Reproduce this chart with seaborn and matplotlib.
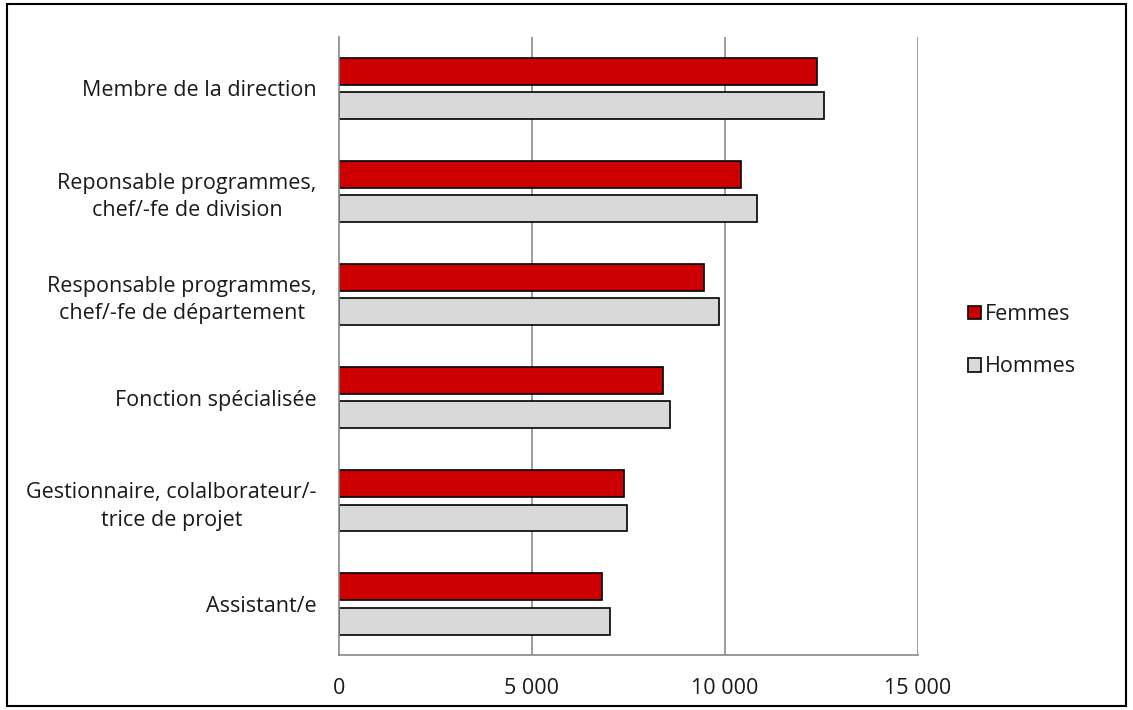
import pandas as pd
import numpy as np
import matplotlib.pyplot as plt
import seaborn as sns
from matplotlib.patches import Rectangle, Patch
from matplotlib.ticker import FixedLocator

# --- 数据 ---
categories = [
    'Membre de la direction',
    'Reponsable programmes,\nchef/-fe de division',
    'Responsable programmes,\nchef/-fe de département',
    'Fonction spécialisée',
    'Gestionnaire, colalborateur/-\ntrice de projet',
    'Assistant/e',
]
femmes = [12400, 10430, 9450, 8410, 7380, 6830]
hommes = [12570, 10840, 9840, 8590, 7460, 7040]
series = ['Femmes', 'Hommes']
colors = ['#CC0000', '#D9D9D9']
x_ticks = [0, 5000, 10000, 15000]
x_labels = ['0', '5 000', '10 000', '15 000']

df = pd.DataFrame({
    'cat': categories * 2,
    'val': femmes + hommes,
    'sexe': [series[0]] * len(categories) + [series[1]] * len(categories),
})

sns.set_style('white')
plt.rcParams['font.family'] = ['Open Sans', 'DejaVu Sans']
plt.rcParams['text.color'] = '#1a1a1a'

fig = plt.figure(figsize=(11.33, 7.10), dpi=100)
ax = fig.add_axes([0.299, 0.077, 0.511, 0.871])

sns.barplot(data=df, y='cat', x='val', hue='sexe', order=categories,
            hue_order=series, palette=colors, saturation=1, orient='h',
            width=0.67, gap=0.22, edgecolor='black', linewidth=1.2,
            legend=False, ax=ax)

ax.set_xlim(0, 15000)
ax.set_ylim(len(categories) - 0.5, -0.5)
ax.set_xticks(x_ticks)
ax.set_xticklabels(x_labels, fontsize=15.5, color='#1a1a1a')
ax.tick_params(axis='x', length=6, color='#888888', width=1.2, pad=10)
ax.tick_params(axis='y', which='major', length=0, labelsize=15.5, pad=16,
               labelcolor='#1a1a1a')
ax.yaxis.set_minor_locator(FixedLocator(np.arange(-0.5, len(categories), 1.0)))
ax.tick_params(axis='y', which='minor', length=7, color='#888888', width=1.2)
for lab in ax.get_yticklabels():
    lab.set_multialignment('center')
    lab.set_linespacing(1.4)
ax.set_xlabel('')
ax.set_ylabel('')

for v in x_ticks[1:]:
    ax.axvline(v, color='#8C8C8C', linewidth=1.2, zorder=0)

for side in ['top', 'right']:
    ax.spines[side].set_visible(False)
for side in ['left', 'bottom']:
    ax.spines[side].set_color('#888888')
    ax.spines[side].set_linewidth(1.2)

handles = [Patch(facecolor=c, edgecolor='black', linewidth=1.2) for c in colors]
fig.legend(handles, series, loc='center left', bbox_to_anchor=(0.837, 0.52),
           frameon=False, fontsize=15.5, handlelength=0.6, handleheight=0.6,
           handletextpad=0.2, labelspacing=1.45)

# 外框
fig.patches.append(Rectangle((0.006, 0.005), 0.988, 0.99, transform=fig.transFigure,
                             fill=False, edgecolor='black', linewidth=1.5))

fig.savefig('out.png', dpi=100)
